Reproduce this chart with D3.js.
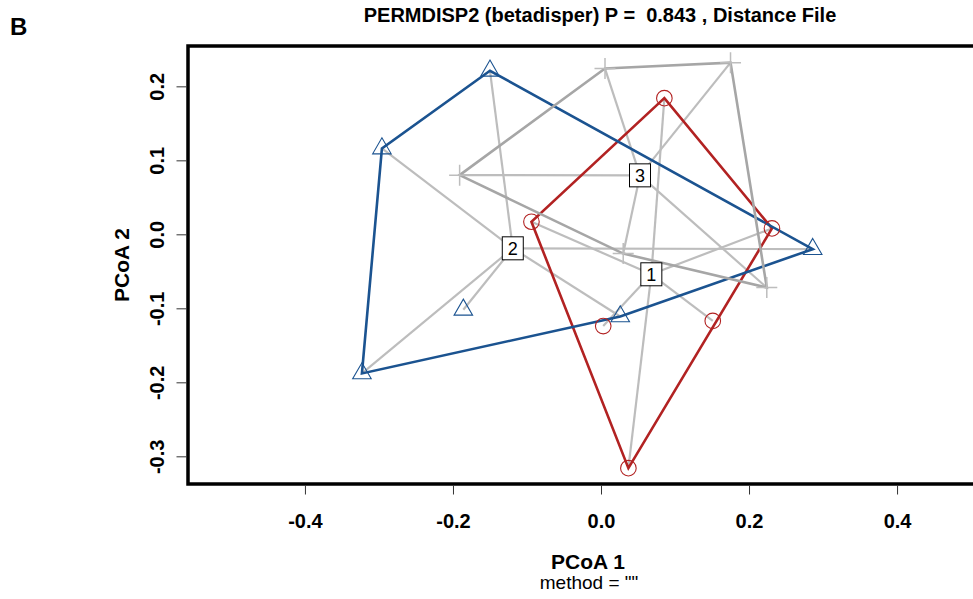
<!DOCTYPE html>
<html>
<head>
<meta charset="utf-8">
<script src="https://cdn.jsdelivr.net/npm/d3@7"></script>
<style>
  html, body { margin: 0; padding: 0; background: #fff; }
  svg { display: block; }
  text { font-family: "Liberation Sans", Arial, Helvetica, sans-serif; }
</style>
</head>
<body>
<svg id="chart" width="973" height="599"></svg>
<script>
// Group labels, colours and point symbols
const groups = ["1", "2", "3"];
const groupColors = ["#b22222", "#1b5390", "#a6a6a6"];
const groupSymbols = ["circle", "triangle", "cross"];

// PCoA scores for each group (axis 1, axis 2)
const g1PC1 = [0.0856, 0.231, 0.151, 0.037, 0.003, -0.094];
const g1PC2 = [0.184, 0.008, -0.117, -0.316, -0.124, 0.017];
const g2PC1 = [-0.150, -0.296, -0.323, 0.026, 0.286, -0.186];
const g2PC2 = [0.221, 0.116, -0.188, -0.111, -0.020, -0.102];
const g3PC1 = [0.0054, 0.175, 0.224, -0.191, 0.030];
const g3PC2 = [0.224, 0.232, -0.072, 0.080, -0.026];

// Group centroids (spatial medians)
const centroidPC1 = [0.068, -0.1192, 0.0527];
const centroidPC2 = [-0.054, -0.0189, 0.0797];

// Axis ticks
const xTicks = [-0.4, -0.2, 0.0, 0.2, 0.4];
const yTicks = [-0.3, -0.2, -0.1, 0.0, 0.1, 0.2];

const titleText = "PERMDISP2 (betadisper) P =  0.843 , Distance File";
const xLabel = "PCoA 1";
const yLabel = "PCoA 2";
const subLabel = 'method = ""';
const panelTag = "B";

const svg = d3.select("#chart");

const plotLeft = 188, plotRight = 1014, plotTop = 46, plotBottom = 484;
const x = d3.scaleLinear().domain([-0.558, 0.558]).range([plotLeft, plotRight]);
const y = d3.scaleLinear().domain([-0.3374, 0.2545]).range([plotBottom, plotTop]);

const pts = [
  g1PC1.map((v, i) => [v, g1PC2[i]]),
  g2PC1.map((v, i) => [v, g2PC2[i]]),
  g3PC1.map((v, i) => [v, g3PC2[i]])
];
const cents = centroidPC1.map((v, i) => [v, centroidPC2[i]]);

const spokeColor = "#bdbdbd";

// spokes from each sample to its group centroid
const spokes = svg.append("g");
pts.forEach((gp, gi) => {
  gp.forEach(p => {
    spokes.append("line")
      .attr("x1", x(cents[gi][0])).attr("y1", y(cents[gi][1]))
      .attr("x2", x(p[0])).attr("y2", y(p[1]))
      .attr("stroke", spokeColor).attr("stroke-width", 2.2);
  });
});

// convex hulls per group
const hulls = svg.append("g");
pts.forEach((gp, gi) => {
  const hull = d3.polygonHull(gp.map(p => [x(p[0]), y(p[1])]));
  hulls.append("path")
    .attr("d", "M" + hull.map(h => h.join(",")).join("L") + "Z")
    .attr("fill", "none")
    .attr("stroke", groupColors[gi])
    .attr("stroke-width", 2.6)
    .attr("stroke-linejoin", "miter");
});

// sample symbols
const marks = svg.append("g");
pts.forEach((gp, gi) => {
  gp.forEach(p => {
    const px = x(p[0]), py = y(p[1]);
    if (groupSymbols[gi] === "circle") {
      marks.append("circle").attr("cx", px).attr("cy", py).attr("r", 7.8)
        .attr("fill", "none").attr("stroke", groupColors[gi]).attr("stroke-width", 1.1);
    } else if (groupSymbols[gi] === "triangle") {
      const r = 10.7;
      const tri = [[px, py - r], [px + r * Math.sqrt(3) / 2, py + r / 2], [px - r * Math.sqrt(3) / 2, py + r / 2]];
      marks.append("path").attr("d", "M" + tri.map(t => t.join(",")).join("L") + "Z")
        .attr("fill", "none").attr("stroke", groupColors[gi]).attr("stroke-width", 1.1);
    } else {
      const h = 10.5;
      marks.append("path")
        .attr("d", `M${px - h},${py}H${px + h}M${px},${py - h}V${py + h}`)
        .attr("stroke", "#bdbdbd").attr("stroke-width", 1.5).attr("fill", "none");
    }
  });
});

// centroid labels
const lab = svg.append("g");
cents.forEach((c, gi) => {
  const cx = x(c[0]), cy = y(c[1]);
  lab.append("rect").attr("x", cx - 10.5).attr("y", cy - 11.5).attr("width", 21).attr("height", 23)
    .attr("fill", "#fff").attr("stroke", "#000").attr("stroke-width", 1);
  lab.append("text").attr("x", cx).attr("y", cy + 6.5).attr("text-anchor", "middle")
    .attr("font-size", 18).text(groups[gi]);
});

// plot frame
svg.append("rect")
  .attr("x", plotLeft).attr("y", plotTop)
  .attr("width", plotRight - plotLeft).attr("height", plotBottom - plotTop)
  .attr("fill", "none").attr("stroke", "#000").attr("stroke-width", 3.5);

// x axis
const xAxis = svg.append("g").attr("transform", `translate(0,${plotBottom + 1.5})`)
  .call(d3.axisBottom(x).tickValues(xTicks).tickSize(9).tickFormat(d3.format(".1f")));
xAxis.select(".domain").remove();
xAxis.selectAll(".tick line").attr("stroke", "#333").attr("stroke-width", 1);
xAxis.selectAll(".tick text")
  .attr("y", 36).attr("dy", "0.32em")
  .attr("font-size", 20).attr("font-weight", "bold").attr("fill", "#000")
  .attr("font-family", '"Liberation Sans", Arial, sans-serif')
  .text(d => d3.format(".1f")(d).replace("\u2212", "-"));

// y axis
const yAxis = svg.append("g").attr("transform", `translate(${plotLeft - 1.5},0)`)
  .call(d3.axisLeft(y).tickValues(yTicks).tickSize(10).tickFormat(d3.format(".1f")));
yAxis.select(".domain").remove();
yAxis.selectAll(".tick line").attr("stroke", "#333").attr("stroke-width", 1);
yAxis.selectAll(".tick text")
  .attr("x", null).attr("dy", null)
  .attr("text-anchor", "middle")
  .attr("transform", "translate(-22.5,0) rotate(-90)")
  .attr("font-size", 20).attr("font-weight", "bold").attr("fill", "#000")
  .attr("font-family", '"Liberation Sans", Arial, sans-serif')
  .text(d => d3.format(".1f")(d).replace("\u2212", "-"));

// titles and labels
svg.append("text").attr("x", 600).attr("y", 22).attr("text-anchor", "middle")
  .attr("font-size", 20).attr("font-weight", "bold").style("white-space", "pre")
  .attr("xml:space", "preserve").text(titleText);

svg.append("text").attr("x", 588).attr("y", 569).attr("text-anchor", "middle")
  .attr("font-size", 21).attr("font-weight", "bold").text(xLabel);

svg.append("text").attr("x", 589).attr("y", 589).attr("text-anchor", "middle")
  .attr("font-size", 19).text(subLabel);

svg.append("text").attr("transform", `translate(129,265) rotate(-90)`).attr("text-anchor", "middle")
  .attr("font-size", 21).attr("font-weight", "bold").text(yLabel);

svg.append("text").attr("x", 10).attr("y", 35)
  .attr("font-size", 24).attr("font-weight", "bold").text(panelTag);
</script>
</body>
</html>
